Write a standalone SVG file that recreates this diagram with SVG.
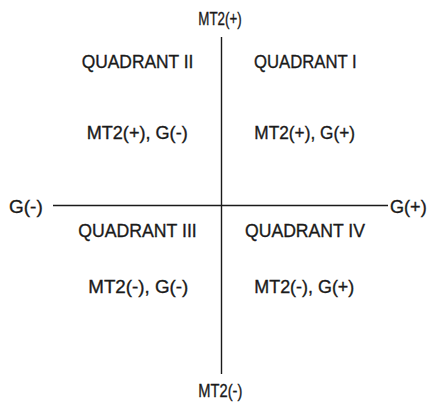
<svg xmlns="http://www.w3.org/2000/svg" width="428" height="407" viewBox="0 0 428 407">
<style>
text{font-family:"Liberation Sans",Arial,sans-serif;font-size:19px;fill:#1a1a1a;stroke:#1a1a1a;stroke-width:0.35}
.ax{stroke:#1a1a1a;stroke-width:1.4;fill:none}
</style>
<rect width="428" height="407" fill="#fff"/>
<g id="connectors">
<line class="ax" x1="221.5" y1="37" x2="221.5" y2="374"/>
<line class="ax" x1="53" y1="205.5" x2="388" y2="205.5"/>
</g>
<g id="axis-labels">
<text x="198.3" y="25" textLength="43.4" lengthAdjust="spacingAndGlyphs">MT2(+)</text>
<text x="198.3" y="397" textLength="44" lengthAdjust="spacingAndGlyphs">MT2(-)</text>
<text x="9" y="213" textLength="33.7" lengthAdjust="spacingAndGlyphs">G(-)</text>
<text x="390" y="212.5" textLength="36.7" lengthAdjust="spacingAndGlyphs">G(+)</text>
</g>
<g id="quadrant-2">
<text x="81.7" y="68" textLength="111.7" lengthAdjust="spacingAndGlyphs">QUADRANT II</text>
<text x="86.7" y="139" textLength="101" lengthAdjust="spacingAndGlyphs">MT2(+), G(-)</text>
</g>
<g id="quadrant-1">
<text x="254" y="68" textLength="102.7" lengthAdjust="spacingAndGlyphs">QUADRANT I</text>
<text x="254.3" y="139" textLength="100.7" lengthAdjust="spacingAndGlyphs">MT2(+), G(+)</text>
</g>
<g id="quadrant-3">
<text x="78.3" y="236.5" textLength="118.4" lengthAdjust="spacingAndGlyphs">QUADRANT III</text>
<text x="88.3" y="293" textLength="100" lengthAdjust="spacingAndGlyphs">MT2(-), G(-)</text>
</g>
<g id="quadrant-4">
<text x="245" y="236.5" textLength="120" lengthAdjust="spacingAndGlyphs">QUADRANT IV</text>
<text x="254.3" y="293" textLength="100" lengthAdjust="spacingAndGlyphs">MT2(-), G(+)</text>
</g>
</svg>
